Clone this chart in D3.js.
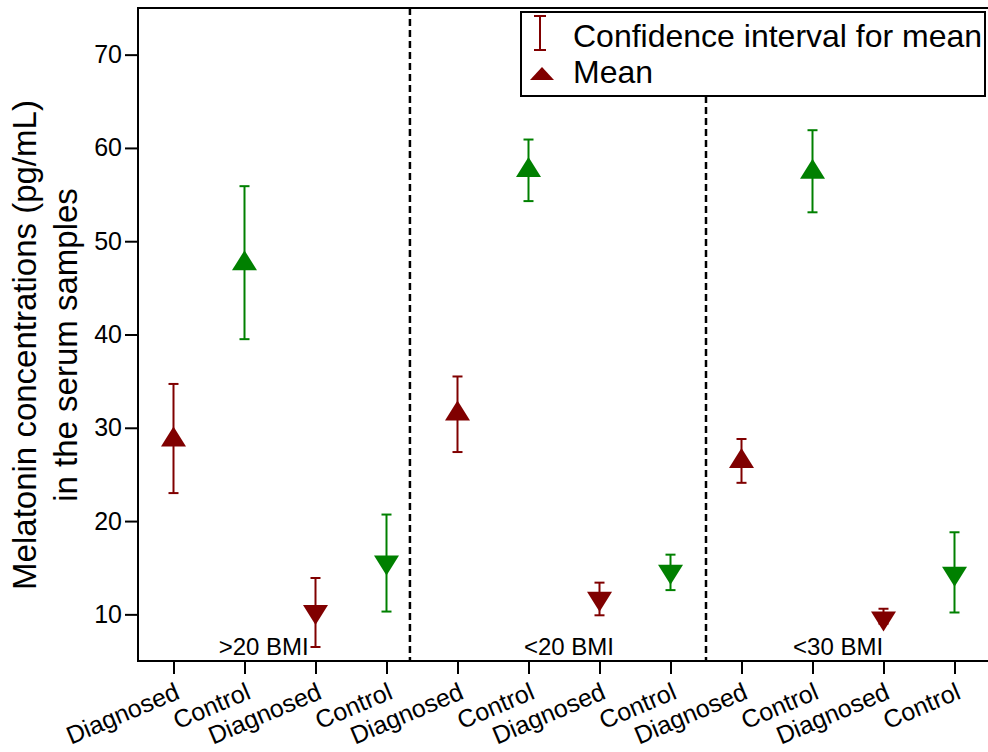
<!DOCTYPE html>
<html>
<head>
<meta charset="utf-8">
<script src="https://cdn.jsdelivr.net/npm/d3@7"></script>
<style>
  body { margin: 0; background: #fff; }
  svg { font-family: "Liberation Sans", Arial, sans-serif; }
</style>
</head>
<body>
<div id="chart"></div>
<script>
// data
const categories = ["Diagnosed", "Control", "Diagnosed", "Control",
                    "Diagnosed", "Control", "Diagnosed", "Control",
                    "Diagnosed", "Control", "Diagnosed", "Control"];
const groups = [">20 BMI", "<20 BMI", "<30 BMI"];
const means  = [28.7, 47.6, 10.3, 15.6, 31.5, 57.6, 11.7, 14.6, 26.4, 57.4, 9.6, 14.4];
const ciLow  = [23.0, 39.5, 6.5, 10.3, 27.4, 54.3, 9.9, 12.6, 24.1, 53.1, 9.0, 10.2];
const ciHigh = [34.7, 55.9, 13.9, 20.7, 35.5, 60.9, 13.4, 16.4, 28.8, 61.9, 10.6, 18.8];
const direction = ["up", "up", "down", "down", "up", "up", "down", "down", "up", "up", "down", "down"];
const yTicks = [10, 20, 30, 40, 50, 60, 70];

// layout
const width = 988, height = 752;
const plot = {left: 138, right: 990, top: 8, bottom: 661};
const colors = {Diagnosed: "#800000", Control: "#008000"};
const dividerAt = [3.33, 7.5];          // in category units
const groupLabelAt = [1.27, 5.57, 9.36];
const legendBox = {x: 521, y: 12, w: 464, h: 84};

const svg = d3.select("#chart").append("svg")
  .attr("width", width)
  .attr("height", height);

svg.append("rect").attr("width", width).attr("height", height).attr("fill", "#fff");

const x = d3.scaleLinear()
  .domain([-0.5, categories.length - 0.5])
  .range([plot.left, plot.right]);

const y = d3.scaleLinear()
  .domain([5, 75])
  .range([plot.bottom, plot.top]);

// frame
svg.append("rect")
  .attr("x", plot.left).attr("y", plot.top)
  .attr("width", plot.right - plot.left)
  .attr("height", plot.bottom - plot.top)
  .attr("fill", "none")
  .attr("stroke", "#000")
  .attr("stroke-width", 2);

// Y axis
const yAxis = svg.append("g")
  .attr("transform", `translate(${plot.left},0)`)
  .call(d3.axisLeft(y).tickValues(yTicks).tickSize(13).tickSizeOuter(0).tickPadding(3));
yAxis.select(".domain").remove();
yAxis.selectAll("line").attr("stroke", "#000").attr("stroke-width", 2);
yAxis.selectAll("text")
  .attr("font-size", 25)
  .attr("font-family", "\"Liberation Sans\", Arial, sans-serif")
  .attr("fill", "#000");

// X axis
const xAxis = svg.append("g")
  .attr("transform", `translate(0,${plot.bottom})`)
  .call(d3.axisBottom(x)
    .tickValues(d3.range(categories.length))
    .tickFormat(i => categories[i])
    .tickSize(13).tickSizeOuter(0));
xAxis.select(".domain").remove();
xAxis.selectAll("line").attr("stroke", "#000").attr("stroke-width", 2);
xAxis.selectAll("text")
  .attr("font-size", 25)
  .attr("font-family", "\"Liberation Sans\", Arial, sans-serif")
  .attr("fill", "#000")
  .attr("text-anchor", "end")
  .attr("x", null).attr("y", null).attr("dy", null)
  .attr("transform", "translate(7,37) rotate(-23)");

// dashed dividers between BMI groups
svg.selectAll(".divider")
  .data(dividerAt)
  .join("line")
  .attr("class", "divider")
  .attr("x1", d => x(d)).attr("x2", d => x(d))
  .attr("y1", (d, i) => i === 0 ? plot.top : legendBox.y + legendBox.h)
  .attr("y2", plot.bottom)
  .attr("stroke", "#000")
  .attr("stroke-width", 2.5)
  .attr("stroke-dasharray", "7,4");

// group labels
svg.selectAll(".group-label")
  .data(groups)
  .join("text")
  .attr("class", "group-label")
  .attr("x", (d, i) => x(groupLabelAt[i]))
  .attr("y", 655)
  .attr("text-anchor", "middle")
  .attr("font-size", 24)
  .text(d => d);

// error bars
const capW = 5;
const bars = svg.append("g");
categories.forEach((c, i) => {
  const g = bars.append("g").attr("stroke", colors[c]).attr("stroke-width", 2);
  g.append("line").attr("x1", x(i)).attr("x2", x(i)).attr("y1", y(ciLow[i])).attr("y2", y(ciHigh[i]));
  g.append("line").attr("x1", x(i) - capW).attr("x2", x(i) + capW).attr("y1", y(ciLow[i])).attr("y2", y(ciLow[i]));
  g.append("line").attr("x1", x(i) - capW).attr("x2", x(i) + capW).attr("y1", y(ciHigh[i])).attr("y2", y(ciHigh[i]));
});

// mean triangles (centered on centroid)
function tri(w, h, dir) {
  const s = dir === "up" ? 1 : -1;
  const tip = -s * h * 2 / 3, base = s * h / 3;
  return `M0,${tip}L${w / 2},${base}L${-w / 2},${base}Z`;
}
svg.selectAll(".mean")
  .data(means)
  .join("path")
  .attr("class", "mean")
  .attr("d", (d, i) => tri(25, 20, direction[i]))
  .attr("transform", (d, i) => `translate(${x(i)},${y(d)})`)
  .attr("fill", (d, i) => colors[categories[i]]);

// Y label
const ylab = svg.append("text")
  .attr("transform", "translate(0,345) rotate(-90)")
  .attr("text-anchor", "middle")
  .attr("font-size", 33);
ylab.append("tspan").attr("x", 0).attr("y", 36).text("Melatonin concentrations (pg/mL)");
ylab.append("tspan").attr("x", 0).attr("y", 77).text("in the serum samples");

// legend
const legend = svg.append("g");
legend.append("rect")
  .attr("x", legendBox.x).attr("y", legendBox.y)
  .attr("width", legendBox.w).attr("height", legendBox.h)
  .attr("fill", "#fff").attr("stroke", "#000").attr("stroke-width", 2);
const lg = legend.append("g").attr("stroke", colors.Diagnosed).attr("stroke-width", 2);
lg.append("line").attr("x1", 540).attr("x2", 540).attr("y1", 16).attr("y2", 50);
lg.append("line").attr("x1", 534).attr("x2", 546).attr("y1", 16).attr("y2", 16);
lg.append("line").attr("x1", 534).attr("x2", 546).attr("y1", 50).attr("y2", 50);
legend.append("path")
  .attr("d", "M542,67L554,80L530,80Z")
  .attr("fill", colors.Diagnosed);
legend.append("text").attr("x", 573).attr("y", 47).attr("font-size", 32).text("Confidence interval for mean");
legend.append("text").attr("x", 573).attr("y", 83).attr("font-size", 32).text("Mean");
</script>
</body>
</html>
